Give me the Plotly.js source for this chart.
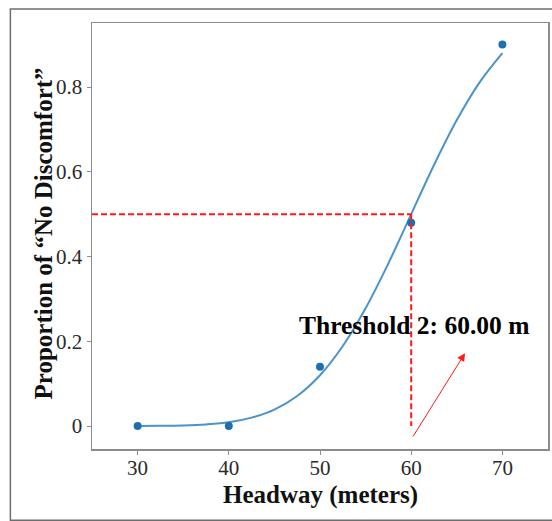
<!DOCTYPE html>
<html>
<head>
<meta charset="utf-8">
<script src="https://cdn.plot.ly/plotly-3.0.1.min.js"></script>
<style>
  html, body { margin: 0; padding: 0; background: #fff; }
  #chart { width: 552px; height: 521px; }
</style>
</head>
<body>
<div id="chart"></div>
<script>
// Observed proportion of "no discomfort" responses at each headway
const headway = [30, 40, 50, 60, 70];
const proportion = [0.0, 0.0, 0.14, 0.48, 0.90];

// Fitted response curve, sampled along the headway axis
const curveHeadway = [30, 32.5, 35, 37.5, 40, 42.5, 45, 47.5, 50, 52.5, 55, 57.5, 60, 62.5, 65, 67.5, 70];
const curveProportion = [0.0002, 0.0006, 0.0016, 0.004, 0.009, 0.020, 0.039, 0.071, 0.12, 0.189, 0.278, 0.384, 0.50, 0.616, 0.722, 0.811, 0.88];

// Threshold read where the fitted curve crosses 0.5
const thresholdHeadway = 60;
const thresholdLevel = 0.5;
const thresholdLabel = 'Threshold 2: 60.00 m';

const xTitle = 'Headway (meters)';
const yTitle = 'Proportion of \u201CNo Discomfort\u201D';

const xTicks = [30, 40, 50, 60, 70];
const yTicks = [0, 0.2, 0.4, 0.6, 0.8];
const yTickText = ['0', '0.2', '0.4', '0.6', '0.8'];

const xRange = [25, 75];
const yRange = [-0.054, 0.951];

const serif = '"Liberation Serif", "Times New Roman", serif';
const titleFont = { family: serif, size: 25, color: '#111' };

const traces = [
  {
    x: curveHeadway,
    y: curveProportion,
    type: 'scatter',
    mode: 'lines',
    line: { color: '#4b93c9', width: 2, shape: 'spline', smoothing: 1 },
    hoverinfo: 'skip',
    showlegend: false
  },
  {
    x: headway,
    y: proportion,
    type: 'scatter',
    mode: 'markers',
    marker: { color: '#1f6fb0', size: 8 },
    showlegend: false
  }
];

const axisCommon = {
  showgrid: false,
  zeroline: false,
  showline: true,
  mirror: true,
  linecolor: '#8c8c8c',
  linewidth: 1.5,
  ticks: 'outside',
  ticklen: 4,
  tickwidth: 1,
  tickcolor: '#8c8c8c',
  tickfont: { family: serif, size: 21, color: '#2a2a2a' }
};

const layout = {
  width: 552,
  height: 521,
  margin: { l: 92, r: 4, t: 23, b: 72 },
  paper_bgcolor: '#fff',
  plot_bgcolor: '#fff',
  xaxis: Object.assign({}, axisCommon, {
    range: xRange,
    tickvals: xTicks,
    ticktext: xTicks.map(String),
    ticklabelstandoff: -5
  }),
  yaxis: Object.assign({}, axisCommon, {
    range: yRange,
    tickvals: yTicks,
    ticktext: yTickText
  }),
  shapes: [
    // horizontal guide at the 0.5 level
    {
      type: 'line', xref: 'x', yref: 'y',
      x0: xRange[0], x1: thresholdHeadway, y0: thresholdLevel, y1: thresholdLevel,
      line: { color: '#ff1a1a', width: 2, dash: '6px,3px' }
    },
    // vertical guide down to the threshold headway
    {
      type: 'line', xref: 'x', yref: 'y',
      x0: thresholdHeadway, x1: thresholdHeadway, y0: thresholdLevel, y1: 0,
      line: { color: '#ff1a1a', width: 2, dash: '6px,3px' }
    },
    // outer frame
    {
      type: 'rect', xref: 'paper', yref: 'paper',
      x0: -0.179, x1: 1.06, y0: -0.167, y1: 1.033,
      line: { color: '#6e6e6e', width: 1.5 },
      layer: 'below'
    }
  ],
  annotations: [
    // axis titles
    {
      xref: 'paper', yref: 'paper', x: 0.502, y: -0.107,
      xanchor: 'center', yanchor: 'middle',
      text: '<b>' + xTitle + '</b>', showarrow: false, font: titleFont
    },
    {
      xref: 'paper', yref: 'paper', x: -0.106, y: 0.505,
      xanchor: 'center', yanchor: 'middle', textangle: -90,
      text: '<b>' + yTitle + '</b>', showarrow: false, font: titleFont
    },
    // threshold label and pointer
    {
      x: 60.3, y: 0.238, xref: 'x', yref: 'y',
      text: '<b>' + thresholdLabel + '</b>',
      showarrow: false,
      font: { family: serif, size: 25.5, color: '#000' }
    },
    {
      x: 65.9, y: 0.172, xref: 'x', yref: 'y',
      ax: 60.1, ay: -0.028, axref: 'x', ayref: 'y',
      text: '',
      showarrow: true,
      arrowhead: 2,
      arrowsize: 1.6,
      arrowwidth: 1,
      arrowcolor: '#ff1a1a'
    }
  ]
};

Plotly.newPlot('chart', traces, layout, { staticPlot: true, displayModeBar: false });
</script>
</body>
</html>
